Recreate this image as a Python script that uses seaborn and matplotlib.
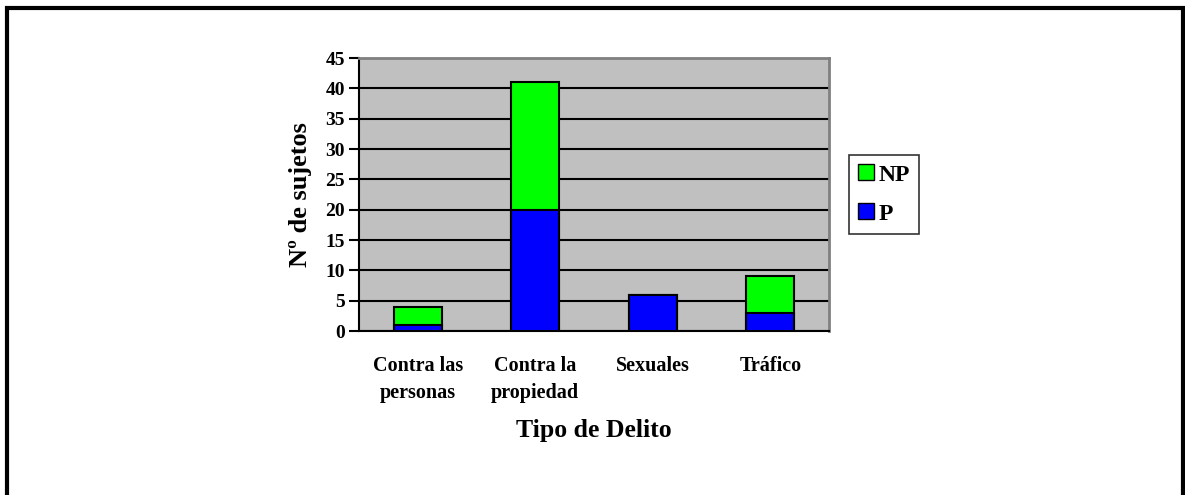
import matplotlib.pyplot as plt
import seaborn as sns
import pandas as pd
import numpy as np
from matplotlib.patches import Patch, Rectangle

categorias = ["Contra las\npersonas", "Contra la\npropiedad", "Sexuales", "Tráfico"]
p_vals = [1, 20, 6, 3]
np_vals = [3, 21, 0, 6]

df = pd.DataFrame({"Tipo": categorias, "P": p_vals, "NP": np_vals})
df["Total"] = df["P"] + df["NP"]

sns.set_style("white")
plt.rcParams["font.family"] = ["Liberation Serif", "DejaVu Serif"]
plt.rcParams["font.weight"] = "bold"
plt.rcParams["text.color"] = "black"
plt.rcParams["axes.labelcolor"] = "black"
plt.rcParams["xtick.color"] = "black"
plt.rcParams["ytick.color"] = "black"

fig = plt.figure(figsize=(11.85, 4.95), dpi=100)
ax = fig.add_axes([0.3030, 0.3313, 0.3966, 0.5515])
ax.set_facecolor("#C0C0C0")

# stacked: total in green, then P in blue over it
sns.barplot(data=df, x="Tipo", y="Total", color="#00FF00", width=0.41,
            edgecolor="black", linewidth=1.5, saturation=1, ax=ax, zorder=3)
sns.barplot(data=df, x="Tipo", y="P", color="#0000FF", width=0.41,
            edgecolor="black", linewidth=1.5, saturation=1, ax=ax, zorder=4)

ax.set_ylim(0, 45)
ax.set_xlim(-0.5, 3.5)
ax.set_yticks(range(0, 50, 5))
ax.yaxis.grid(True, color="black", linewidth=1.5)
ax.set_axisbelow(True)

ax.set_xticks(np.arange(-0.5, 4, 1), minor=True)
ax.tick_params(axis="x", which="minor", length=7, width=1.5, direction="out", color="black")
ax.tick_params(axis="x", which="major", length=0, pad=18, labelsize=14.5)
ax.tick_params(axis="y", length=7, width=1.5, direction="out", color="black", labelsize=14, pad=3)
ax.tick_params(bottom=True, left=True)
for lab in ax.get_xticklabels():
    lab.set_linespacing(1.45)
    lab.set_fontweight("bold")
for lab in ax.get_yticklabels():
    lab.set_fontweight("bold")

for side in ["left", "bottom"]:
    ax.spines[side].set_color("black")
    ax.spines[side].set_linewidth(1.5)
for side in ["right", "top"]:
    ax.spines[side].set_color("#808080")
    ax.spines[side].set_linewidth(2)

ax.set_xlabel("Tipo de Delito", fontsize=18.5, fontweight="bold", labelpad=12)
ax.set_ylabel("Nº de sujetos", fontsize=19, fontweight="bold", labelpad=10)

handles = [Patch(facecolor="#00FF00", edgecolor="black", label="NP"),
           Patch(facecolor="#0000FF", edgecolor="black", label="P")]
leg = fig.legend(handles=handles, loc="upper left", bbox_to_anchor=(849 / 1185, 1 - 155 / 495),
                 frameon=True, fancybox=False, edgecolor="black", fontsize=17,
                 handlelength=0.65, handleheight=0.65, handletextpad=0.2,
                 borderpad=0.4, labelspacing=0.75, borderaxespad=0)
leg.get_frame().set_linewidth(1.2)
for t in leg.get_texts():
    t.set_fontweight("bold")

fig.patches.append(Rectangle((7 / 1185, -0.05), (1183 - 7) / 1185, 1.05 - 8 / 495,
                             transform=fig.transFigure, fill=False,
                             edgecolor="black", linewidth=3))

fig.savefig("out.png", dpi=100)
